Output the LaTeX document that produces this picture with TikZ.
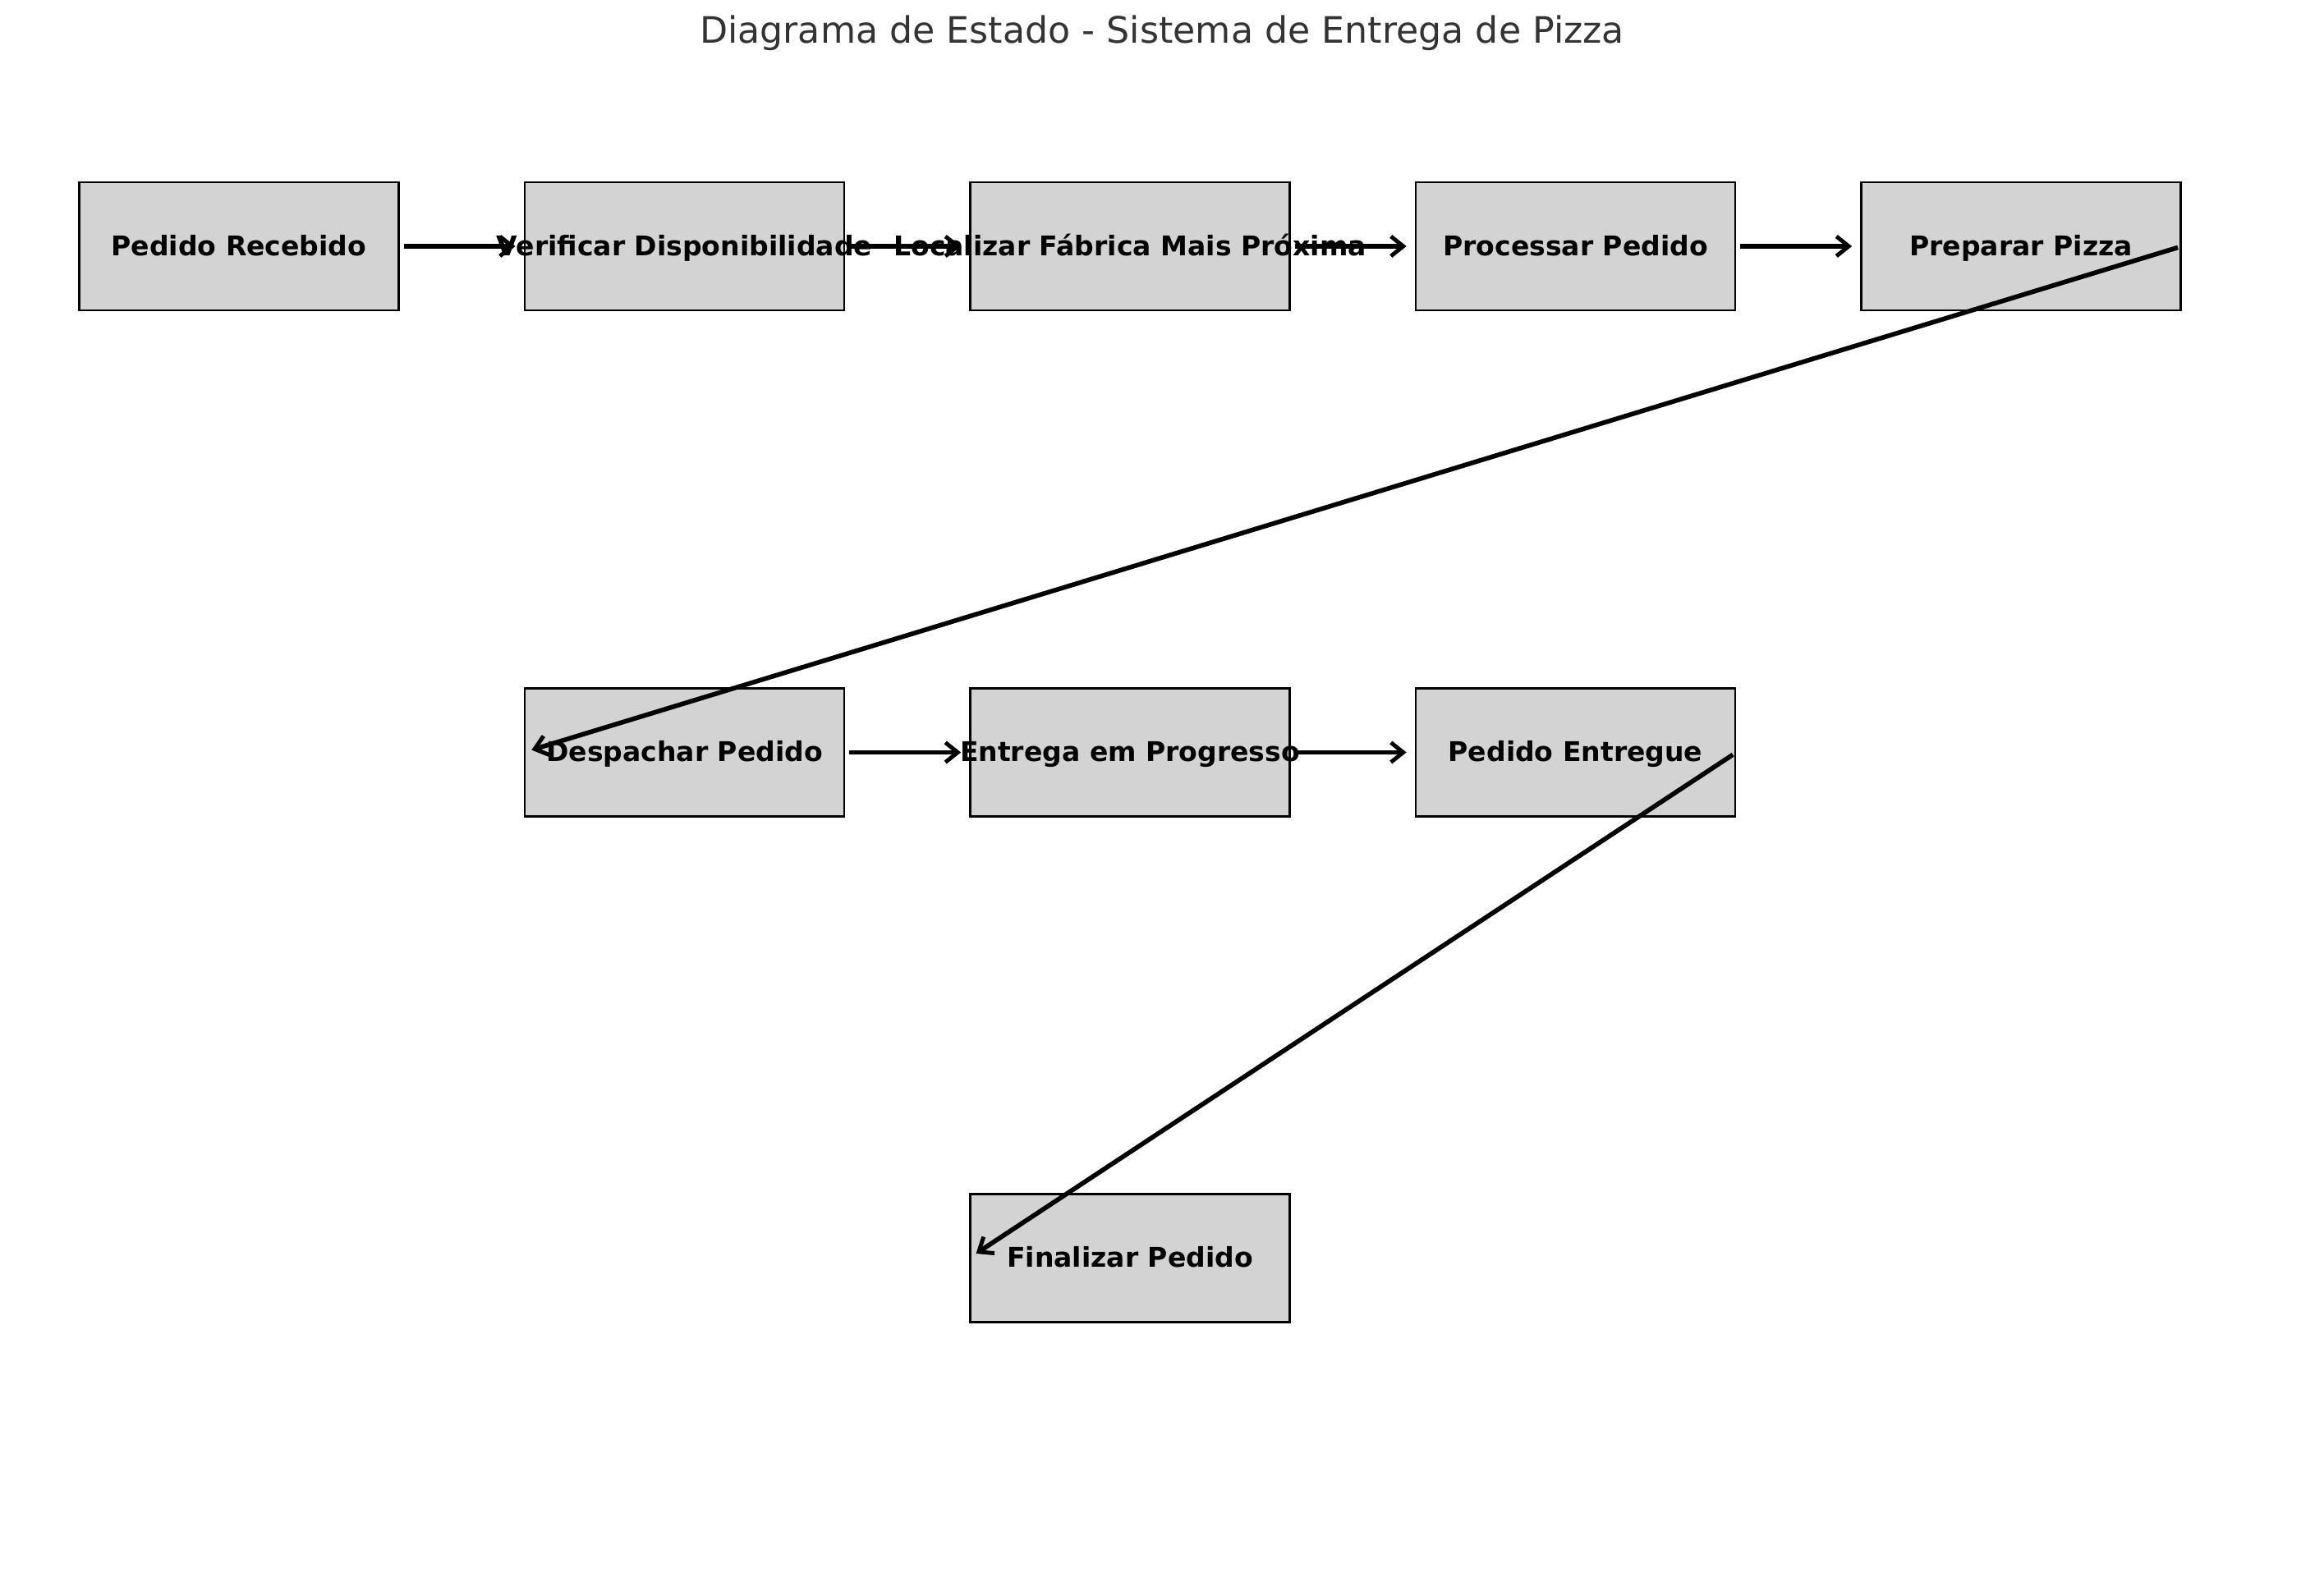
\documentclass[tikz,border=0pt]{standalone}
\usepackage{fontspec}
\setmainfont{DejaVu Sans}
\usetikzlibrary{arrows.meta}
\definecolor{caixa}{HTML}{D3D3D3}
\definecolor{titulo}{HTML}{333333}

\begin{document}
\begin{tikzpicture}[
    estado/.style={draw=black, line width=0.75pt, fill=caixa, rectangle,
        minimum width=3.89cm, minimum height=1.56cm, inner sep=0pt,
        text height=7.4pt, text depth=1pt,
        font=\fontsize{9.4}{11}\selectfont\bfseries},
    seta/.style={-{Straight Barb[length=1.5mm,width=2.4mm,line width=1.4pt]},
        line width=1.6pt, shorten <=0.5mm, shorten >=1mm}
]
    % Define the bounding box of the whole figure
    \useasboundingbox (0,0) rectangle (28.30,19.38);

    % Title
    \node (titulo) at (14.15,18.85) [anchor=base, text=titulo,
        font=\fontsize{12.6}{15}\selectfont] {Diagrama de Estado - Sistema de Entrega de Pizza};

    % First row of states (labels may run past the box)
    \node (recebido) at (2.91,16.38) [estado] {\makebox[0pt]{Pedido Recebido}};
    \node (verificar) at (8.335,16.38) [estado] {\makebox[0pt]{Verificar Disponibilidade}};
    \node (localizar) at (13.76,16.38) [estado] {\makebox[0pt]{Localizar Fábrica Mais Próxima}};
    \node (processar) at (19.185,16.38) [estado] {\makebox[0pt]{Processar Pedido}};
    \node (preparar) at (24.61,16.38) [estado] {\makebox[0pt]{Preparar Pizza}};

    % Second row of states
    \node (despachar) at (8.335,10.215) [estado] {\makebox[0pt]{Despachar Pedido}};
    \node (entrega) at (13.76,10.215) [estado] {\makebox[0pt]{Entrega em Progresso}};
    \node (entregue) at (19.185,10.215) [estado] {\makebox[0pt]{Pedido Entregue}};

    % Last state
    \node (finalizar) at (13.76,4.055) [estado] {\makebox[0pt]{Finalizar Pedido}};

    % Transitions between the states
    \draw[seta] (recebido.east) -- (verificar.west);
    \draw[seta] (verificar.east) -- (localizar.west);
    \draw[seta] (localizar.east) -- (processar.west);
    \draw[seta] (processar.east) -- (preparar.west);
    \draw[seta] (preparar.east) -- (despachar.west);
    \draw[seta] (despachar.east) -- (entrega.west);
    \draw[seta] (entrega.east) -- (entregue.west);
    \draw[seta] (entregue.east) -- (finalizar.west);
\end{tikzpicture}
\end{document}
